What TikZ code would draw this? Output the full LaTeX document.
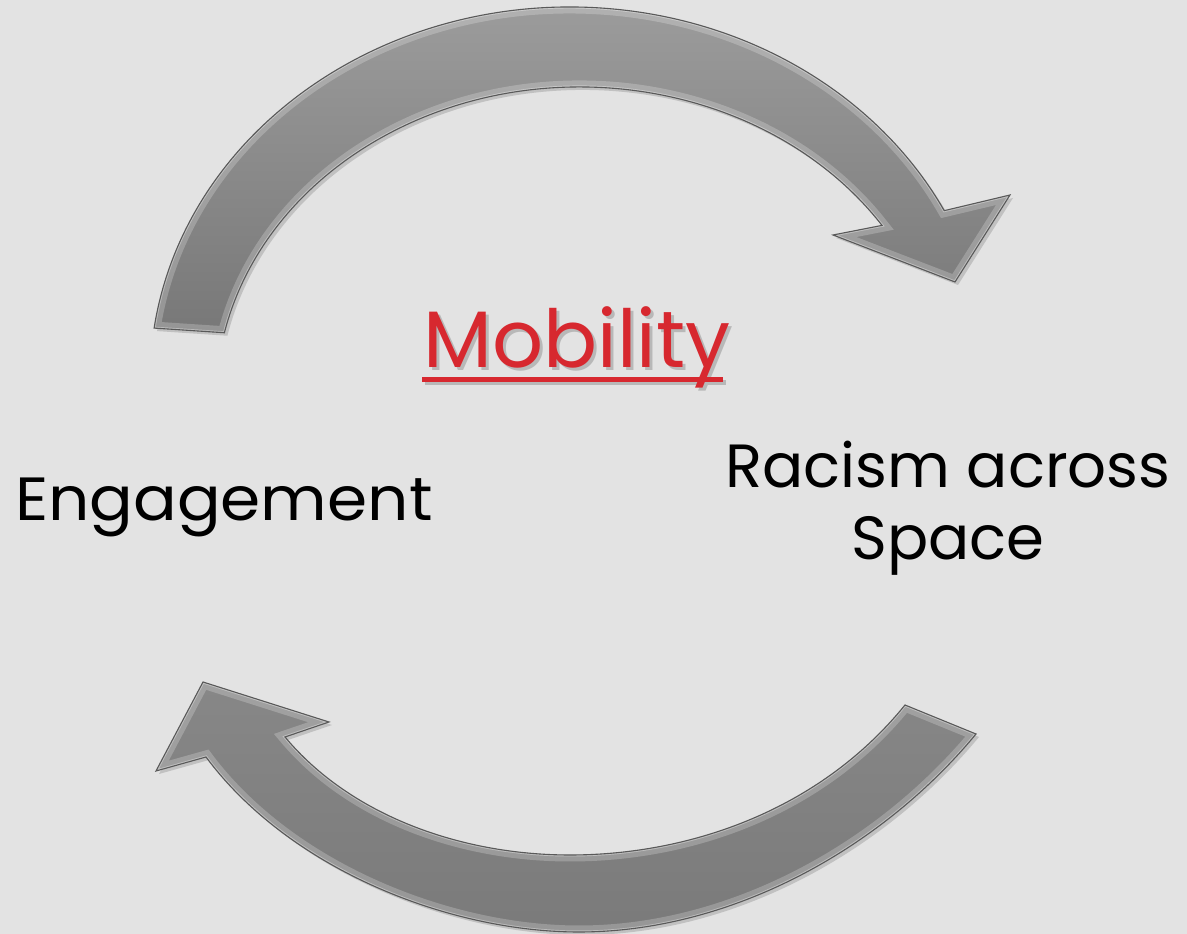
\documentclass[tikz,border=0pt]{standalone}
\usepackage{fontspec}
\setmainfont{Poppins}
\begin{document}
\begin{tikzpicture}[x=1pt,y=1pt,
  bodytext/.style={font=\fontsize{61}{72}\selectfont, text=black, inner sep=0pt},
  titletext/.style={font=\fontsize{80}{90}\selectfont, text=mobred, inner sep=0pt},
  arrowedge/.style={draw=black!65, line width=1.1pt, line join=miter},
  bevel/.style={white, opacity=0.22, line width=13pt},
  shine/.style={white, opacity=0.35, line width=3pt},
]
\definecolor{bg}{HTML}{E3E3E3}
\definecolor{mobred}{HTML}{D7282F}
\def\TopArrow{(154.1,605.9) arc[start angle=172,end angle=27,x radius=420,y radius=373]
  -- (1010,739) -- (955,652) -- (833,699) -- (882,708.6)
  arc[start angle=33.9,end angle=167.6,x radius=364,y radius=313] -- cycle}
\def\BotArrow{(206,177) .. controls (290,64) and (450,2) .. (579,2)
  .. controls (730,2) and (880,84) .. (976,200) -- (905,229)
  .. controls (820,124) and (690,79) .. (570,79)
  .. controls (460,79) and (350,119) .. (285,197)
  -- (329,212) -- (203,252) -- (156,163) -- cycle}
\useasboundingbox (0,0) rectangle (1187,934);
\fill[bg] (0,0) rectangle (1187,934);
% shadows
\fill[black, opacity=0.15, shift={(3,-3)}] \TopArrow;
\fill[black, opacity=0.15, shift={(3,-3)}] \BotArrow;
% top arrow
\shade[top color=black!38, bottom color=black!53] \TopArrow;
\begin{scope}
  \clip \TopArrow;
  \draw[bevel] \TopArrow;
  \draw[shine] \TopArrow;
\end{scope}
\draw[arrowedge] \TopArrow;
% bottom arrow
\shade[top color=black!47, bottom color=black!52] \BotArrow;
\begin{scope}
  \clip \BotArrow;
  \draw[bevel] \BotArrow;
  \draw[shine] \BotArrow;
\end{scope}
\draw[arrowedge] \BotArrow;
% texts
\node[titletext, text=black!28, anchor=base] (mobshadow) at (580,563) {Mobility};
\fill[black!28] (425,549) rectangle (726,554);
\node[titletext, anchor=base] (mob) at (577,566) {Mobility};
\fill[mobred] (422,552) rectangle (723,557);
\node[bodytext, anchor=base west] (eng) at (15,413) {\scalebox{1.06}[1]{Engagement}};
\node[bodytext, anchor=base, align=center] (rac) at (948,374) {Racism across\\Space};
\end{tikzpicture}
\end{document}
